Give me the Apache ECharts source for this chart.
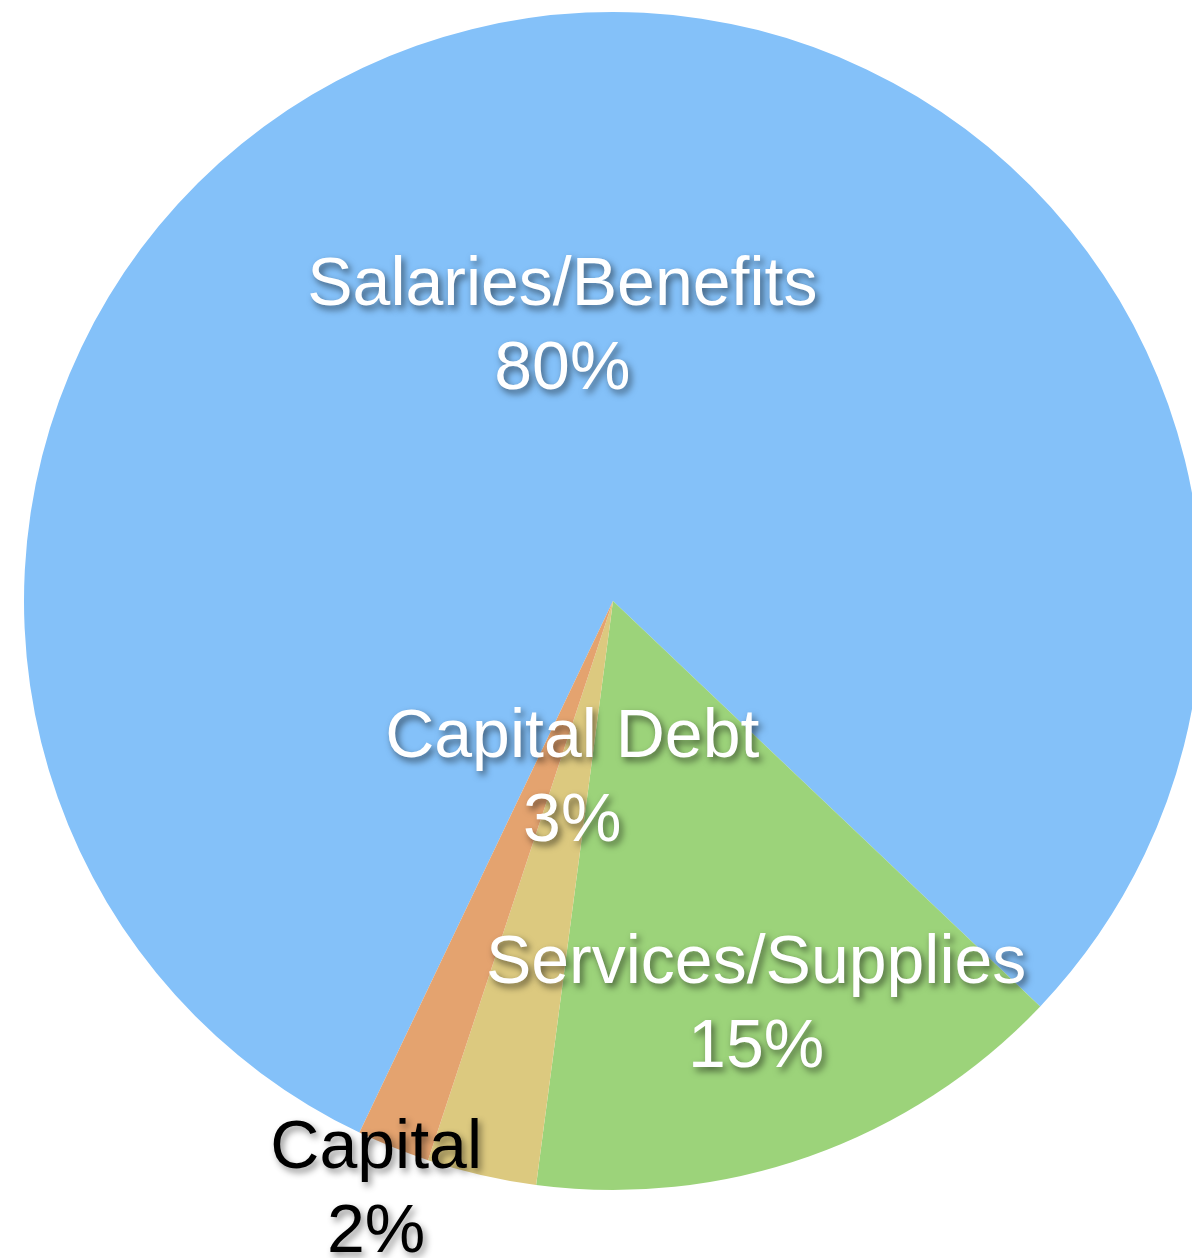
<!DOCTYPE html>
<html>
<head>
<meta charset="utf-8">
<style>
  html, body { margin: 0; padding: 0; background: #ffffff; }
  #chart { width: 1192px; height: 1258px; }
</style>
<script src="https://cdn.jsdelivr.net/npm/echarts@6/dist/echarts.min.js"></script>
</head>
<body>
<div id="chart"></div>
<script>
// Budget shares by spending category (percent)
const categories = ['Salaries/Benefits', 'Services/Supplies', 'Capital Debt', 'Capital'];
const shares = [80, 15, 3, 2];

// Slice fills and label styling, in the same order as the categories
const sliceColors = ['#84C1F9', '#9CD37A', '#DCC97F', '#E4A36F'];
const labelColors = ['#ffffff', '#ffffff', '#ffffff', '#000000'];
const labelShadows = ['rgba(0,0,0,0.55)', 'rgba(0,0,0,0.55)', 'rgba(0,0,0,0.55)', 'rgba(0,0,0,0.45)'];
// How far out along each slice's middle the label sits, as a fraction of the radius
const labelRadius = [0.472, 0.728, 0.31, 1.078];
const LABEL_NUDGE_Y = 1;

const CENTER = [613, 601];
const RADIUS = 589;
const START_ANGLE = 244.5;

const total = shares.reduce((a, b) => a + b, 0);
const midAngles = [];
let acc = 0;
shares.forEach(v => {
  const span = v / total * 360;
  midAngles.push(START_ANGLE - acc - span / 2);
  acc += span;
});

const chart = echarts.init(document.getElementById('chart'));
chart.setOption({
  animation: false,
  backgroundColor: '#ffffff',
  series: [{
    type: 'pie',
    center: CENTER,
    radius: RADIUS,
    startAngle: START_ANGLE,
    clockwise: true,
    silent: true,
    avoidLabelOverlap: false,
    itemStyle: { borderWidth: 0 },
    label: {
      show: true,
      position: 'inside',
      formatter: '{b}\n{c}%',
      fontFamily: '"Liberation Sans", Arial, sans-serif',
      fontSize: 68,
      lineHeight: 84,
      textShadowBlur: 7,
      textShadowOffsetX: 3,
      textShadowOffsetY: 4
    },
    labelLine: { show: false },
    labelLayout: function (params) {
      const i = params.dataIndex;
      const a = midAngles[i] * Math.PI / 180;
      const r = RADIUS * labelRadius[i];
      return {
        x: CENTER[0] + r * Math.cos(a),
        y: CENTER[1] - r * Math.sin(a) + LABEL_NUDGE_Y,
        align: 'center',
        verticalAlign: 'middle'
      };
    },
    data: categories.map((name, i) => ({
      name: name,
      value: shares[i],
      itemStyle: { color: sliceColors[i] },
      label: { color: labelColors[i], textShadowColor: labelShadows[i] }
    }))
  }]
});
</script>
</body>
</html>
